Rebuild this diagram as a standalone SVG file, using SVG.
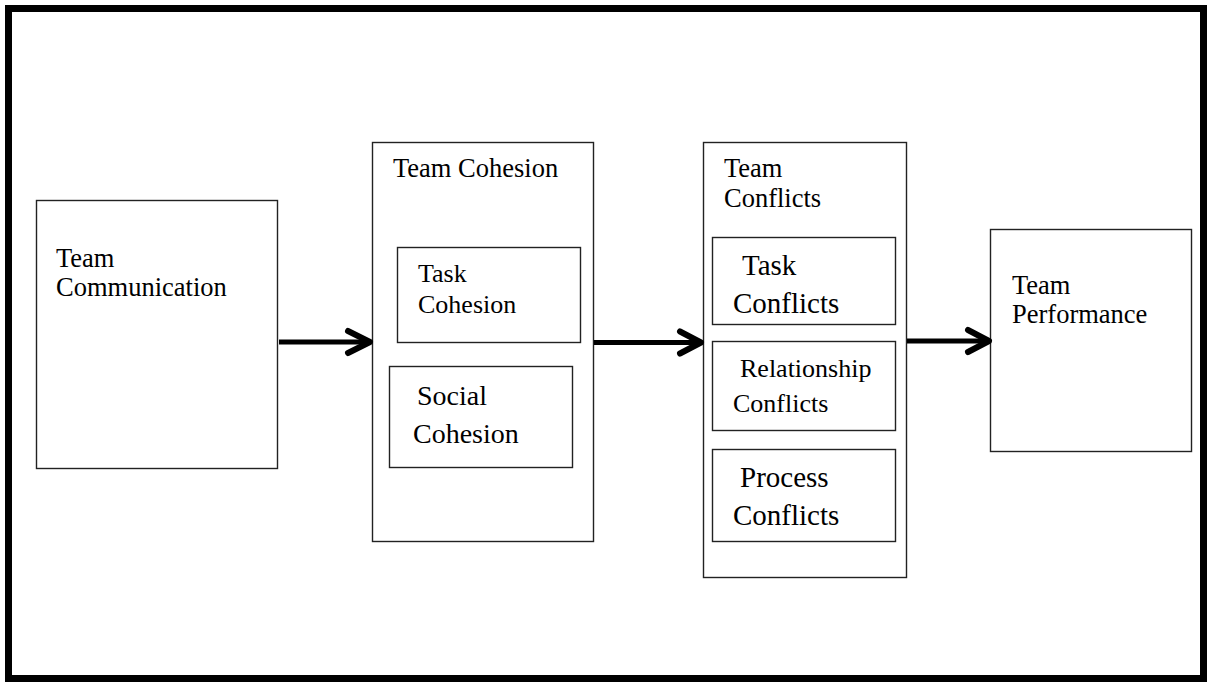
<svg xmlns="http://www.w3.org/2000/svg" width="1207" height="682" viewBox="0 0 1207 682">
<style>
.box{fill:#fff;stroke:#222;stroke-width:1.4}
.t{font-family:"Liberation Serif","Times New Roman",serif;font-size:26.5px;fill:#000}
.t26{font-size:26px}
.t28{font-size:28px}
.t29{font-size:29px}
.shaft{stroke:#000;stroke-width:5;fill:none}
.head{stroke:#000;stroke-width:6;fill:none;stroke-linecap:round;stroke-linejoin:round}
</style>
<rect x="0" y="0" width="1207" height="682" fill="#fff"/>
<rect x="8.5" y="8.5" width="1195" height="670" fill="none" stroke="#000" stroke-width="7"/>
<g id="team-communication">
<rect class="box" x="36.5" y="200.5" width="241" height="268"/>
<text class="t" x="56" y="267">Team</text>
<text class="t" x="56" y="296">Communication</text>
</g>
<g id="team-cohesion">
<rect class="box" x="372.5" y="142.5" width="221" height="399"/>
<text class="t" x="393" y="177">Team Cohesion</text>
</g>
<g id="task-cohesion">
<rect class="box" x="397.5" y="247.5" width="183" height="95"/>
<text class="t t26" x="418" y="282">Task</text>
<text class="t t26" x="418" y="313">Cohesion</text>
</g>
<g id="social-cohesion">
<rect class="box" x="389.5" y="366.5" width="183" height="101"/>
<text class="t t28" x="417" y="405">Social</text>
<text class="t t28" x="413" y="443">Cohesion</text>
</g>
<g id="team-conflicts">
<rect class="box" x="703.5" y="142.5" width="203" height="435"/>
<text class="t" x="724" y="177">Team</text>
<text class="t" x="724" y="207">Conflicts</text>
</g>
<g id="task-conflicts">
<rect class="box" x="712.5" y="237.5" width="183" height="87"/>
<text class="t t29" x="742" y="275">Task</text>
<text class="t t29" x="733" y="313">Conflicts</text>
</g>
<g id="relationship-conflicts">
<rect class="box" x="712.5" y="341.5" width="183" height="89"/>
<text class="t t26" x="740" y="377">Relationship</text>
<text class="t t26" x="733" y="412">Conflicts</text>
</g>
<g id="process-conflicts">
<rect class="box" x="712.5" y="449.5" width="183" height="92"/>
<text class="t t29" x="740" y="487">Process</text>
<text class="t t29" x="733" y="525">Conflicts</text>
</g>
<g id="team-performance">
<rect class="box" x="990.5" y="229.5" width="201" height="222"/>
<text class="t" x="1012" y="294">Team</text>
<text class="t" x="1012" y="323">Performance</text>
</g>
<g id="connectors">
<line class="shaft" x1="279" y1="342" x2="368" y2="342"/>
<polyline class="head" points="348,331 370,342 348,353"/>
<line class="shaft" x1="594" y1="342.5" x2="699" y2="342.5"/>
<polyline class="head" points="680,331.5 701,342.5 680,353.5"/>
<line class="shaft" x1="907" y1="341" x2="987" y2="341"/>
<polyline class="head" points="968,330 989,341 968,352"/>
</g>
</svg>
